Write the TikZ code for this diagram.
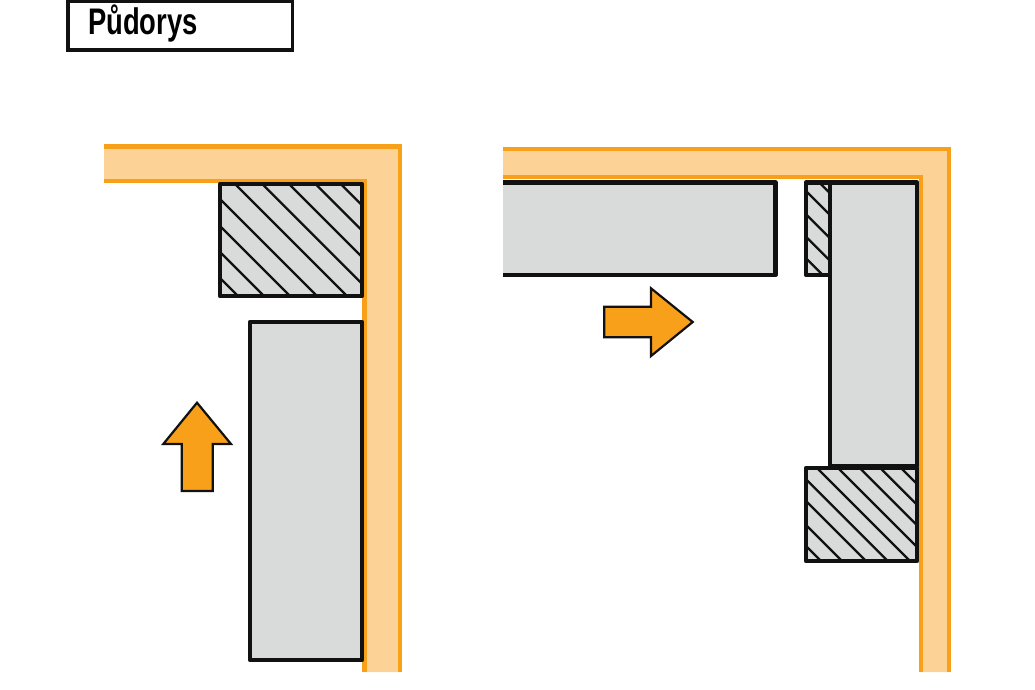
\documentclass[tikz,border=0pt]{standalone}
\usepackage{fontspec}
\setmainfont{Liberation Sans}
\definecolor{wallfill}{HTML}{FDD296}
\definecolor{wallline}{HTML}{F9A01B}
\definecolor{boxgray}{HTML}{D9DADA}
\definecolor{inkblack}{HTML}{111111}
\tikzset{
  wallband/.style={fill=wallfill,draw=none},
  walledge/.style={draw=wallline,line width=4.4pt,line join=miter},
  boxpart/.style={fill=boxgray,draw=inkblack,line width=4.6pt,line join=round},
  hatchline/.style={draw=inkblack,line width=2.2pt},
  movearrow/.style={fill=wallline,draw=inkblack,line width=2.2pt,line join=miter},
  titlebox/.style={draw=inkblack,line width=3.8pt,fill=white}
}
% x0 y0 x1 y1 {offsets x-y}
\newcommand{\hatchedbox}[5]{%
  \fill[boxgray] (#1,#2) rectangle (#3,#4);
  \begin{scope}
    \clip (#1,#2) rectangle (#3,#4);
    \foreach \c in {#5} {
      \draw[hatchline] ({\c+#2},#2) -- ({\c+#4},#4);
    }
  \end{scope}
  \draw[boxpart,fill=none] (#1,#2) rectangle (#3,#4);
}
\begin{document}
\begin{tikzpicture}[x=1pt,y=-1pt]
\useasboundingbox (0,0) rectangle (1035,689);
\fill[white] (0,0) rectangle (1035,689);
% title
\draw[titlebox] (67.7,1.2) rectangle (292.5,50);
\node[anchor=base west,inner sep=0pt,font=\bfseries\fontsize{37}{37}\selectfont,xscale=0.74,transform shape] (title) at (88,34.5) {Půdorys};
% left wall
\fill[wallband] (104,146.3) -- (399.8,146.3) -- (399.8,672) -- (364.6,672) -- (364.6,181) -- (104,181) -- cycle;
\draw[walledge] (104,146.3) -- (399.8,146.3) -- (399.8,672);
\draw[walledge] (104,181) -- (364.6,181) -- (364.6,672);
% left units
\hatchedbox{220}{184}{362}{296}{156.7,131.5,105,78.3,51,21,-6,-32,-58}
\draw[boxpart] (250,322) rectangle (362,660);
% up arrow
\draw[movearrow] (197,402.7) -- (231,444) -- (212.7,444) -- (212.7,491) -- (181.7,491) -- (181.7,444) -- (163.3,444) -- cycle;
% right wall
\fill[wallband] (503,148.8) -- (948.8,148.8) -- (948.8,672) -- (921,672) -- (921,177.2) -- (503,177.2) -- cycle;
\draw[walledge] (503,148.8) -- (948.8,148.8) -- (948.8,672);
\draw[walledge] (503,177.2) -- (921,177.2) -- (921,672);
% right units
\fill[boxgray] (503,182.5) rectangle (775.5,275);
\draw[boxpart,fill=none] (503,182.5) -- (775.5,182.5) -- (775.5,275) -- (503,275);
\hatchedbox{806}{182.5}{830}{275}{636.7,615,591.7,569.3,547.7}
\draw[boxpart] (830,182.5) rectangle (917,466);
\hatchedbox{806}{468}{917}{561}{433,412.3,391.7,370,349,326.7,305,281,260}
% right arrow
\draw[movearrow] (604.3,306.7) -- (651,306.7) -- (651,288.3) -- (692.7,322) -- (651,356) -- (651,337.3) -- (604.3,337.3) -- cycle;
\end{tikzpicture}
\end{document}
